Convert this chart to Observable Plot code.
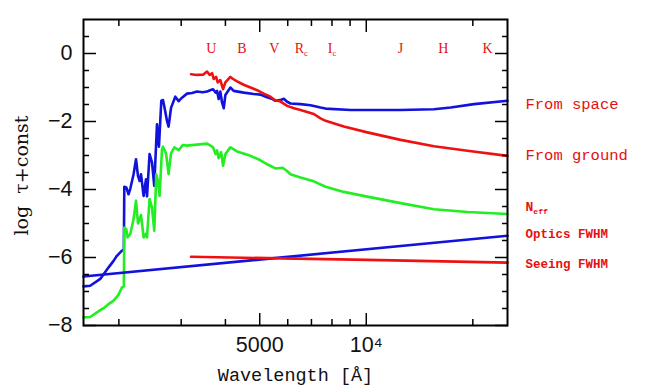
<!DOCTYPE html>
<html><head><meta charset="utf-8">
<script src="https://cdn.jsdelivr.net/npm/d3@7"></script>
<script src="https://cdn.jsdelivr.net/npm/@observablehq/plot@0.6"></script>
<style>body{margin:0;background:#fff}</style>
</head><body><div id="chart"></div>
<script>
// ---- data (wavelength in Å, log tau + const) ----
const spaceWl  = [1589,1660,1772,1871,1932,1975,2040,2066,2072,2099,2130,2154,2201,2236,2265,2290,2310,2349,2386,2402,2442,2481,2518,2563,2596,2636,2665,2693,2735,2764,2808,2887,2951,3016,3116,3220,3325,3450,3550,3620,3691,3752,3789,3828,3870,3913,3956,3999,4131,4221,4505,4808,5023,5200,5400,5539,5750,5850,5976,6107,6519,6958,7426,7673,9028,12503,15535,17313,20161,25060];
const spaceTau = [-6.85,-6.83,-6.63,-6.29,-6.10,-5.95,-5.80,-5.76,-3.92,-3.94,-4.14,-3.98,-3.55,-3.11,-3.60,-3.75,-3.55,-4.19,-3.70,-4.20,-2.96,-3.20,-3.89,-2.08,-2.74,-1.39,-1.37,-1.60,-1.98,-2.15,-1.60,-1.27,-1.40,-1.30,-1.18,-1.16,-1.12,-1.14,-1.12,-1.08,-1.05,-1.15,-1.10,-1.34,-1.12,-1.44,-1.61,-1.22,-1.00,-1.10,-1.15,-1.19,-1.21,-1.27,-1.33,-1.39,-1.36,-1.33,-1.42,-1.47,-1.49,-1.52,-1.59,-1.62,-1.66,-1.66,-1.64,-1.59,-1.49,-1.39];

const groundWl  = [3198,3325,3465,3550,3611,3668,3706,3765,3805,3870,3939,3999,4131,4204,4316,4505,4707,4917,5132,5362,5539,5700,5976,6250,6519,7109,7426,7673,8641,10065,12503,15535,19309,25060];
const groundTau = [-0.61,-0.63,-0.62,-0.53,-0.63,-0.58,-0.75,-0.69,-0.85,-0.78,-1.05,-0.85,-0.69,-0.75,-0.82,-0.92,-1.00,-1.08,-1.18,-1.27,-1.38,-1.40,-1.54,-1.61,-1.66,-1.78,-1.91,-1.98,-2.15,-2.32,-2.54,-2.73,-2.86,-3.01];

const neffWl  = [1589,1660,1772,1811,1871,1932,1995,2040,2066,2072,2099,2117,2154,2201,2236,2265,2310,2349,2386,2402,2442,2481,2518,2551,2577,2607,2648,2665,2718,2764,2808,2869,2951,3035,3116,3325,3550,3620,3691,3752,3789,3828,3890,3939,3999,4131,4316,4707,5023,5300,5539,5800,5950,6107,6519,7109,7673,8641,10065,12503,15535,19309,25060];
const neffTau = [-7.76,-7.75,-7.55,-7.49,-7.37,-7.27,-7.10,-6.88,-6.85,-5.12,-5.17,-5.41,-5.31,-4.87,-4.33,-5.00,-4.75,-5.41,-5.30,-5.41,-4.28,-4.53,-5.21,-3.55,-3.74,-4.19,-2.81,-2.74,-2.94,-3.55,-2.94,-2.76,-2.84,-2.69,-2.71,-2.68,-2.65,-2.70,-2.76,-2.96,-2.85,-3.08,-2.90,-3.30,-2.96,-2.76,-2.88,-3.01,-3.14,-3.28,-3.38,-3.36,-3.44,-3.55,-3.65,-3.76,-3.92,-4.07,-4.21,-4.40,-4.58,-4.66,-4.72];

const opticsWl  = [1589,5600,25060];
const opticsTau = [-6.56,-6.01,-5.36];

const seeingWl  = [3198,10065,25060];
const seeingTau = [-5.98,-6.07,-6.15];

const bandNames = ["U","B","V","R_c","I_c","J","H","K"];
const bandWl    = [3650,4450,5500,6550,8000,12500,16500,22000];

const seriesLabels = ["From space","From ground","N_eff","Optics FWHM","Seeing FWHM"];

const xMajor = [5000,10000];
const xMinor = [2000,3000,4000,6000,7000,8000,9000,20000];
const yMajor = [-8,-6,-4,-2,0];
const yMinor = [-7.5,-7,-6.5,-5.5,-5,-4.5,-3.5,-3,-2.5,-1.5,-1,-0.5,0.5];

// ---- build ----
const rows = (wl, tau) => wl.map((w, i) => ({w, t: tau[i]}));
const RED = "#ee1111", BLUE = "#1212dd", GREEN = "#22ee22", TXT = "#e51010";
const series = [
  {data: rows(spaceWl, spaceTau),   color: BLUE,  label: seriesLabels[0], size: 15.5, dy: 3},
  {data: rows(groundWl, groundTau), color: RED,   label: seriesLabels[1], size: 15.5, dy: -1},
  {data: rows(neffWl, neffTau),     color: GREEN, label: seriesLabels[2], size: 13, dy: -7},
  {data: rows(opticsWl, opticsTau), color: BLUE,  label: seriesLabels[3], size: 12.5, dy: -2},
  {data: rows(seeingWl, seeingTau), color: RED,   label: seriesLabels[4], size: 12.5, dy: 1}
];
const mono = "'Liberation Mono', 'DejaVu Sans Mono', monospace";
const serif = "'DejaVu Serif', 'Liberation Serif', serif";
const sans = "'Liberation Sans', 'DejaVu Sans', sans-serif";
const fmtY = d => d < 0 ? "\u2212" + (-d) : String(d);
const fmtX = d => d === 10000 ? "10\u2074" : String(d);
const blank = () => "";

const marks = [];
for (const s of series) {
  marks.push(Plot.line(s.data, {x: "w", y: "t", stroke: s.color, strokeWidth: 2.6}));
}
for (const s of series) {
  const last = s.data[s.data.length - 1];
  marks.push(Plot.text([last], {x: "w", y: "t", text: () => s.label, dx: 18, dy: s.dy,
    textAnchor: "start", lineAnchor: "middle", fill: TXT, fontSize: s.size, fontFamily: mono,
    fontWeight: s.size < 14 ? 600 : "normal"}));
}
marks.push(
  Plot.text(bandNames.map((n, i) => ({n, w: bandWl[i]})), {x: "w", text: "n", frameAnchor: "top", dy: 29,
    lineAnchor: "middle", textAnchor: "middle", fill: TXT, fontSize: 14, fontFamily: "'Liberation Serif', serif"}),
  Plot.frame({stroke: "#000", strokeWidth: 2}),
  // tick marks (inward, all four sides)
  Plot.axisX(xMajor, {anchor: "bottom", tickSize: -12, tickFormat: blank, label: null, strokeWidth: 1.5}),
  Plot.axisX(xMinor, {anchor: "bottom", tickSize: -6, tickFormat: blank, label: null, strokeWidth: 1.5}),
  Plot.axisX(xMajor, {anchor: "top", tickSize: -12, tickFormat: blank, label: null, strokeWidth: 1.5}),
  Plot.axisX(xMinor, {anchor: "top", tickSize: -6, tickFormat: blank, label: null, strokeWidth: 1.5}),
  Plot.axisY(yMajor, {anchor: "left", tickSize: -13, tickFormat: blank, label: null, strokeWidth: 1.5}),
  Plot.axisY(yMinor, {anchor: "left", tickSize: -6, tickFormat: blank, label: null, strokeWidth: 1.5}),
  Plot.axisY(yMajor, {anchor: "right", tickSize: -13, tickFormat: blank, label: null, strokeWidth: 1.5}),
  Plot.axisY(yMinor, {anchor: "right", tickSize: -6, tickFormat: blank, label: null, strokeWidth: 1.5}),
  // tick labels
  Plot.axisX(xMajor, {anchor: "bottom", tickSize: 0, tickPadding: 11, tickFormat: fmtX, label: null,
    fontSize: 21.5, fontFamily: sans, fill: "#111"}),
  Plot.axisY(yMajor, {anchor: "left", tickSize: 0, tickPadding: 11, tickFormat: fmtY, label: null,
    fontSize: 21.5, fontFamily: sans, fill: "#111"}),
  // axis titles
  Plot.text(["Wavelength [\u00C5]"], {frameAnchor: "bottom", dy: 50, lineAnchor: "middle", textAnchor: "middle",
    fontSize: 18.5, fontFamily: mono, fill: "#111"}),
  Plot.text(["log  \u03C4+const"], {frameAnchor: "left", dx: -62, dy: 3, rotate: -90, textAnchor: "middle", lineAnchor: "middle",
    fontSize: 19, fontFamily: serif, fill: "#111"})
);

const chart = Plot.plot({
  width: 650, height: 392,
  marginLeft: 83, marginRight: 143, marginTop: 19, marginBottom: 67,
  style: {background: "#fff", overflow: "visible"},
  x: {type: "log", domain: [1589, 25060]},
  y: {domain: [-8, 1]},
  marks
});

// subscripts (N_eff, R_c, I_c)
d3.select(chart).selectAll("text").each(function () {
  const s = this.textContent;
  if (s.includes("_") && this.childElementCount === 0) {
    const [a, b] = s.split("_");
    this.textContent = "";
    const t = d3.select(this);
    t.append("tspan").text(a);
    t.append("tspan").attr("font-size", "0.62em").attr("dy", "0.35em").text(b);
  }
});
document.getElementById("chart").appendChild(chart);
</script>
</body></html>
